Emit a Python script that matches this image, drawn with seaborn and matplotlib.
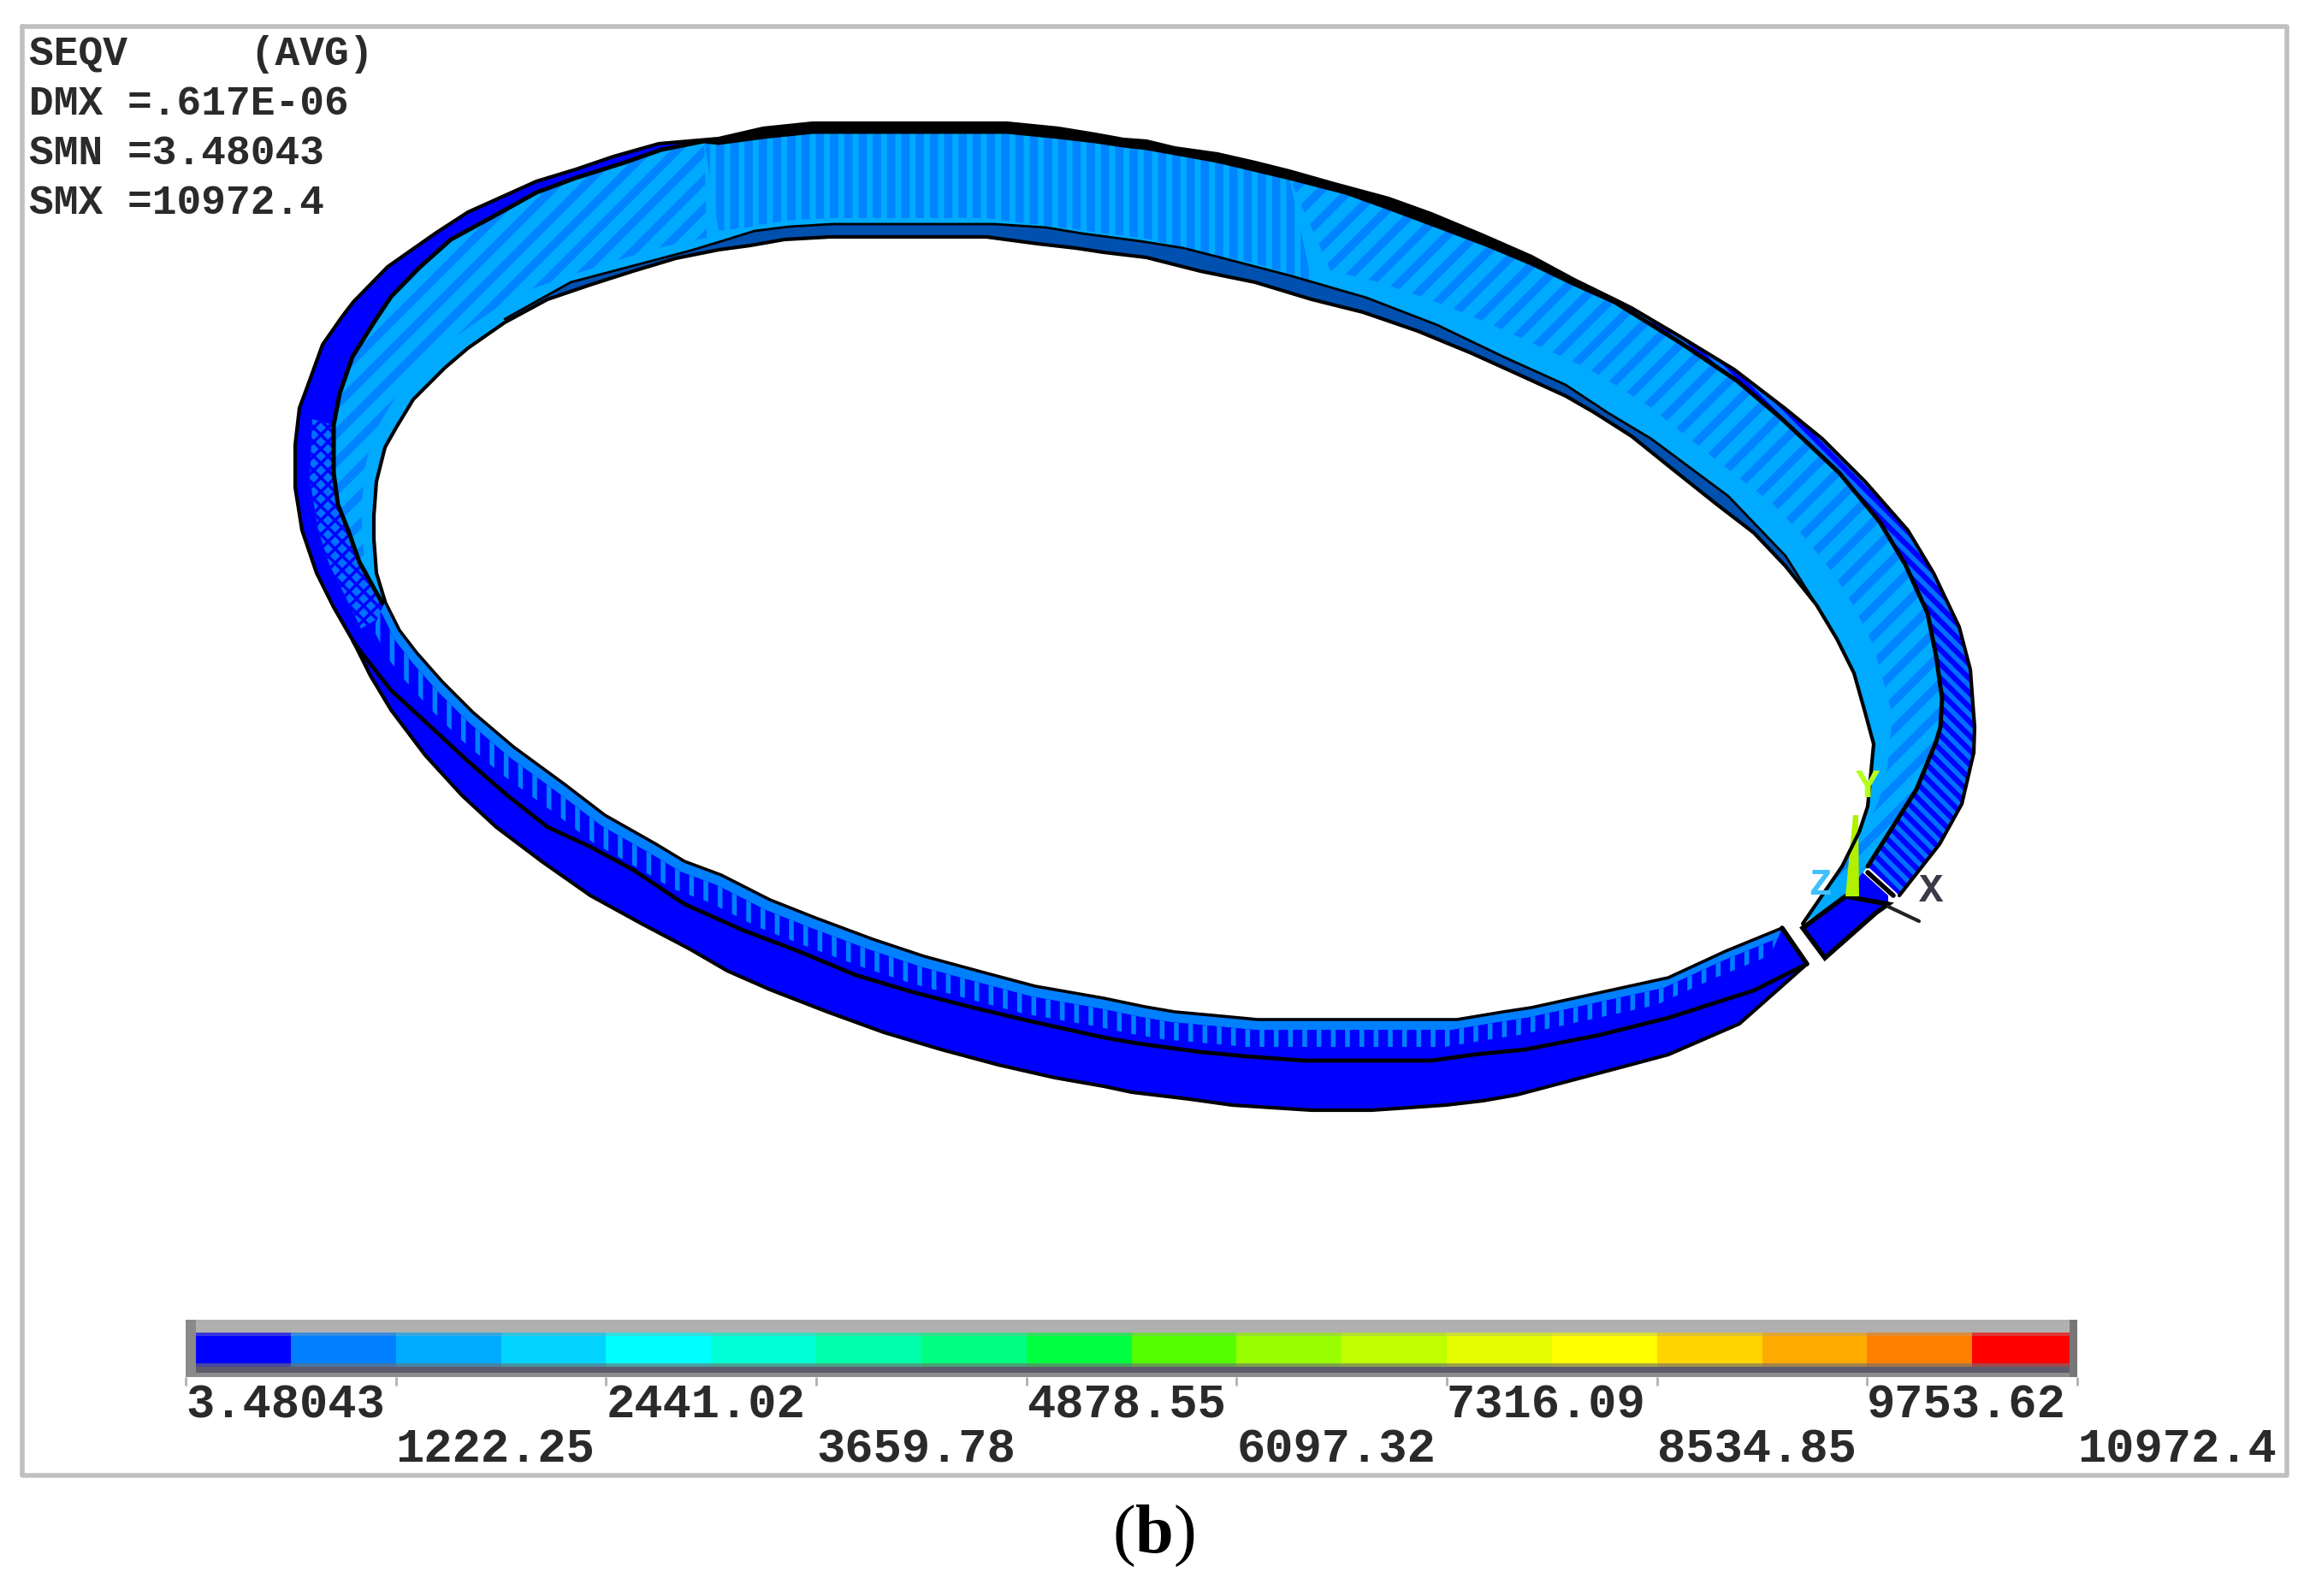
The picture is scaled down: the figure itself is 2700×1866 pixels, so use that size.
import matplotlib
matplotlib.use("Agg")
import matplotlib.pyplot as plt
import numpy as np
import seaborn as sns
from matplotlib.colors import ListedColormap

sns.set_style("white")
plt.rcParams['font.family'] = ['Liberation Mono', 'DejaVu Sans Mono']
plt.rcParams['mathtext.fontset'] = 'custom'
plt.rcParams['mathtext.bf'] = 'Liberation Serif:bold'
plt.rcParams['mathtext.rm'] = 'Liberation Serif'
plt.rcParams['hatch.linewidth'] = 4

# contour bands of the legend
band_index = list(range(18))
band_colors = ['#0000ff', '#0080ff', '#00aaff', '#00d4ff', '#00ffff', '#00ffd4', '#00ffaa', '#00ff80', '#00ff40',
               '#55ff00', '#99ff00', '#bfff00', '#e5ff00', '#ffff00', '#ffd400', '#ffaa00', '#ff8000', '#ff0000']
tick_labels = ['3.48043', '1222.25', '2441.02', '3659.78', '4878.55', '6097.32', '7316.09', '8534.85', '9753.62',
               '10972.4']
info_lines = ['SEQV     (AVG)', 'DMX =.617E-06', 'SMN =3.48043', 'SMX =10972.4']

# ring outlines, in image pixels
# outer edge, from the top going left and round the bottom to the gap
sil_x = [1177, 950, 892, 840, 770, 717, 673, 627, 587, 547, 510, 480, 453, 413, 400, 377, 360, 350, 345, 345, 353, 370,
         390, 413, 433, 457, 497, 540, 580, 633, 690, 750, 807, 850, 900, 967, 1033, 1100, 1167, 1233, 1290, 1323,
         1390, 1440, 1533, 1603, 1690, 1733, 1773, 1894, 1950, 2033, 2112]
sil_y = [144, 144, 150, 162, 168, 183, 198, 212, 230, 248, 272, 293, 312, 353, 370, 403, 450, 477, 520, 570, 620, 670,
         710, 750, 790, 830, 883, 930, 967, 1007, 1047, 1080, 1110, 1135, 1157, 1183, 1207, 1227, 1245, 1260, 1270,
         1277, 1285, 1292, 1298, 1298, 1292, 1287, 1280, 1248, 1233, 1197, 1127]
# outer edge on the top right, down to the gap
top_x = [1177, 1237, 1280, 1313, 1340, 1373, 1423, 1467, 1507, 1560, 1623, 1673, 1733, 1790, 1840, 1887, 1907, 1963,
         2027, 2087, 2130, 2180, 2230, 2260, 2290, 2303, 2308, 2307, 2293, 2267, 2220]
top_y = [144, 150, 157, 163, 165, 173, 180, 190, 200, 215, 232, 250, 275, 300, 327, 350, 360, 393, 432, 478, 513, 563,
         620, 670, 733, 783, 850, 880, 940, 987, 1047]
# black rim line over the crown of the ring, from the left join to the gap
rim_x = [447, 440, 420, 407, 395, 390, 390, 397, 412, 437, 457, 490, 527, 573, 627, 673, 730, 773, 823, 840, 892, 950,
         1177, 1237, 1280, 1313, 1340, 1423, 1507, 1573, 1623, 1690, 1740, 1790, 1840, 1887, 1963, 2030, 2083, 2150,
         2197, 2227, 2253, 2263, 2270, 2268, 2263, 2240, 2183]
rim_y = [705, 693, 657, 620, 590, 553, 497, 460, 417, 377, 347, 313, 280, 255, 225, 208, 190, 175, 165, 167, 160, 154,
         154, 160, 165, 170, 173, 188, 208, 225, 243, 268, 287, 308, 332, 353, 400, 445, 490, 553, 610, 660, 717, 767,
         817, 850, 867, 923, 1013]
# hole, upper part from the left join over the top to the gap
hole_top_x = [450, 440, 437, 437, 440, 450, 463, 483, 520, 547, 590, 640, 690, 740, 790, 840, 877, 917, 970, 1153,
              1213, 1257, 1290, 1340, 1403, 1467, 1533, 1593, 1657, 1720, 1773, 1830, 1863, 1907, 1953, 2007, 2050,
              2087, 2123, 2147, 2167, 2180, 2190, 2183, 2173, 2153, 2107]
hole_top_y = [703, 670, 630, 603, 563, 523, 500, 467, 430, 407, 377, 350, 333, 317, 302, 292, 287, 280, 277, 277, 285,
              290, 295, 301, 317, 330, 350, 365, 387, 413, 437, 463, 482, 510, 547, 590, 623, 662, 707, 747, 787, 833,
              870, 943, 973, 1013, 1080]
# hole, lower part from the left join to the gap
hole_low_x = [450, 467, 487, 517, 553, 600, 660, 707, 767, 800, 843, 900, 953, 1020, 1080, 1150, 1210, 1290, 1338,
              1373, 1417, 1470, 1703, 1757, 1790, 1950, 2017, 2083]
hole_low_y = [703, 737, 763, 797, 833, 873, 917, 953, 987, 1007, 1023, 1052, 1073, 1098, 1118, 1137, 1153, 1167, 1177,
              1183, 1187, 1192, 1192, 1183, 1178, 1143, 1112, 1085]
# black line running along the lower outside face
mid_x = [413, 420, 457, 507, 547, 593, 640, 690, 740, 800, 867, 933, 1000, 1067, 1133, 1200, 1290, 1330, 1403, 1457,
         1523, 1623, 1673, 1723, 1783, 1870, 1950, 2050, 2112]
mid_y = [750, 760, 807, 853, 890, 930, 967, 990, 1017, 1057, 1087, 1112, 1140, 1160, 1177, 1193, 1213, 1220, 1230,
         1235, 1240, 1240, 1240, 1233, 1227, 1210, 1190, 1158, 1127]
# second line just above the hole edge
lip_x = [590, 667, 807, 840, 882, 922, 973, 1162, 1223, 1265, 1333, 1383, 1430, 1507, 1597, 1680, 1757, 1830,
         1880, 1930, 2020, 2087, 2123]
lip_y = [373, 330, 293, 283, 270, 265, 262, 262, 266, 273, 282, 290, 302, 322, 348, 380, 417, 450, 483, 513, 580,
         650, 707]
# lighter patch on the left of the outer face
patch_x = [365, 362, 372, 385, 405, 422, 447, 440, 420, 407, 395, 390, 390]
patch_y = [490, 560, 620, 660, 700, 735, 720, 693, 657, 620, 590, 553, 497]
block_x = [2107, 2133, 2193, 2207, 2157]
block_y = [1085, 1120, 1067, 1057, 1048]
wedge_x = [2177, 2207, 2207, 2157]
wedge_y = [1020, 1047, 1057, 1048]
end_x = [2083, 2112]
end_y = [1085, 1127]
sep_x = [2183, 2213]
sep_y = [1020, 1047]
y_axis_x = [2166, 2172, 2173, 2157]
y_axis_y = [953, 953, 1048, 1048]
x_axis_x = [2207, 2243]
x_axis_y = [1060, 1077]

fig = plt.figure(figsize=(27, 18.66), dpi=100)
ax = fig.add_axes([0, 0, 1, 1])
ax.set_xlim(0, 2700)
ax.set_ylim(1866, 0)
ax.axis('off')

# image frame
ax.plot([26, 2673, 2673, 26, 26], [31, 31, 1725, 1725, 31], color='#c0c0c0', lw=4)

rim_xa, rim_ya = np.array(rim_x), np.array(rim_y)
hole_xa, hole_ya = np.array(hole_top_x), np.array(hole_top_y)
low_xa, low_ya = np.array(hole_low_x), np.array(hole_low_y)

# outer face and the band on the right
crown = rim_xa <= 950
ax.fill(sil_x[1:] + end_x[::-1] + hole_low_x[::-1] + list(rim_xa[crown]),
        sil_y[1:] + end_y[::-1] + hole_low_y[::-1] + list(rim_ya[crown]), color='#0000ff', lw=0)
plt.rcParams['hatch.linewidth'] = 2.5
ax.fill(patch_x, patch_y, facecolor='#0070ff', edgecolor='#0000ff', hatch='xx', lw=0)
plt.rcParams['hatch.linewidth'] = 4
right_band = rim_xa >= 1887
ax.fill(top_x[15:] + list(rim_xa[right_band])[::-1], top_y[15:] + list(rim_ya[right_band])[::-1],
        facecolor='#0000ff', edgecolor='#0070ff', hatch='\\\\', lw=0)
black_top = (rim_xa >= 840) & (rim_xa <= 1887)
ax.fill(sil_x[:4][::-1] + top_x[1:16] + list(rim_xa[black_top])[::-1],
        sil_y[:4][::-1] + top_y[1:16] + list(rim_ya[black_top])[::-1], color='black', lw=0)

# lower inside face: solid light band, spikes, dark rest
ax.fill(list(low_xa - 5) + hole_low_x[::-1], list(low_ya + 12) + hole_low_y[::-1], color='#0080ff', lw=0)
ax.fill(list(low_xa - 14) + list(low_xa - 5)[::-1], list(low_ya + 32) + list(low_ya + 12)[::-1],
        facecolor='#0000ff', edgecolor='#0080ff', hatch='|', lw=0)

# upper inside face, streaks change direction round the ring
ax.fill(rim_x + [2157] + hole_top_x[::-1], rim_y + [1048] + hole_top_y[::-1], color='#00aaff', lw=0)
plt.rcParams['hatch.linewidth'] = 7
sections = [(0, 19, 0, 16, '/', -14, -14), (18, 29, 15, 27, '|', 0, -22), (28, 49, 26, 47, '/', 22, -34)]
for r0, r1, h0, h1, pattern, dx, dy in sections:
    ax.fill(list(rim_xa[r0:r1]) + list(hole_xa[h0:h1] + dx)[::-1], list(rim_ya[r0:r1]) + list(hole_ya[h0:h1] + dy)[::-1],
            facecolor='none', edgecolor='#0084ff', hatch=pattern, lw=0)
plt.rcParams['hatch.linewidth'] = 4

# stripe along the hole
ax.fill(lip_x + hole_top_x[10:39][::-1], lip_y + hole_top_y[10:39][::-1], color='#0050b0', lw=0)

ax.fill(wedge_x, wedge_y, color='#0000ff', lw=0)
ax.fill(block_x, block_y, facecolor='#0000ff', edgecolor='black', lw=4)

outlines = [(sil_x, sil_y, 3), (top_x, top_y, 3), (rim_x, rim_y, 3.6), (hole_top_x, hole_top_y, 3),
            (hole_low_x, hole_low_y, 2.6), (mid_x, mid_y, 3.4), (lip_x, lip_y, 2), (end_x, end_y, 4), (sep_x, sep_y, 4)]
for xs, ys, lw in outlines:
    sns.lineplot(x=xs, y=ys, sort=False, estimator=None, color='black', lw=lw, ax=ax)

# coordinate triad
ax.fill(y_axis_x, y_axis_y, color='#b0f000', lw=0)
sns.lineplot(x=x_axis_x, y=x_axis_y, sort=False, estimator=None, color='#222222', lw=3, ax=ax)
ax.text(2183, 920, 'Y', color='#b4ff20', fontsize=34, weight='bold', ha='center', va='center')
ax.text(2128, 1035, 'Z', color='#40c0ff', fontsize=32, weight='bold', ha='center', va='center')
ax.text(2257, 1042, 'X', color='#3a3a4a', fontsize=34, weight='bold', ha='center', va='center')

for label, ypos in zip(info_lines, [63, 121, 180, 238]):
    ax.text(34, ypos, label, color='#2a2a2a', fontsize=34.5, weight='bold', ha='left', va='center')

ax.text(1348, 1796, r'$\mathrm{(}\mathbf{b}\mathrm{)}$', fontsize=58, color='black', ha='center', va='center')

# legend bar
cax = fig.add_axes([217 / 2700, 1 - 1610 / 1866, (2428 - 217) / 2700, 67 / 1866])
sns.heatmap(np.array([band_index]), cmap=ListedColormap(band_colors), cbar=False, ax=cax, yticklabels=False)
cax.set_ylim(1.31, -0.37)
cax.set_facecolor('#b0b0b0')
cax.axhspan(-0.37, 1.31, color='#b0b0b0', lw=0, zorder=0)
cax.axhspan(1.0, 1.18, color='#5c5c6c', lw=0)
cax.axhspan(1.18, 1.31, color='#8c8c8c', lw=0)
cax.axhspan(0.0, 0.1, color='#a0a0a0', alpha=0.35, lw=0)
cax.axhspan(0.9, 1.0, color='#707070', alpha=0.65, lw=0)
cax.axvspan(0, 0.1, color='#8a8a8a', lw=0)
cax.axvspan(17.93, 18, color='#777777', lw=0)
for side in cax.spines.values():
    side.set_visible(False)
cax.set_xticks(band_index[::2] + [18])
staggered = [lab if i % 2 == 0 else '\n' + lab for i, lab in enumerate(tick_labels)]
cax.set_xticklabels(staggered, rotation=0, ha='left', fontsize=40, color='#2a2a2a', weight='bold', linespacing=1.0)
cax.tick_params(axis='x', bottom=True, length=7, width=2, color='#b0b0b0', pad=-2)

fig.savefig('out.png', dpi=100, facecolor='white')
